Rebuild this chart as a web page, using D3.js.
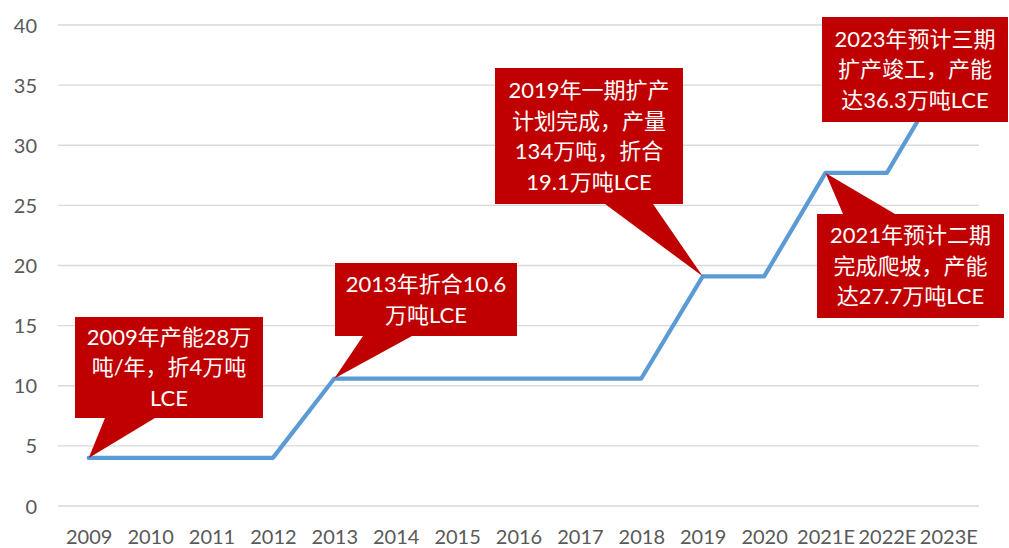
<!DOCTYPE html>
<html>
<head>
<meta charset="utf-8">
<script src="https://cdnjs.cloudflare.com/ajax/libs/d3/7.8.5/d3.min.js"></script>
<style>
  html, body { margin: 0; padding: 0; background: #fff; }
  svg { display: block; }
  text { font-family: Lato, "Noto Sans CJK SC", sans-serif; }
</style>
</head>
<body>
<svg id="chart" width="1009" height="548"></svg>
<script>
// ---- data ----
const categories = ["2009","2010","2011","2012","2013","2014","2015","2016","2017","2018","2019","2020","2021E","2022E","2023E"];
const capacity = [4, 4, 4, 4, 10.6, 10.6, 10.6, 10.6, 10.6, 10.6, 19.1, 19.1, 27.7, 27.7, 36.3];
const yTicks = [0, 5, 10, 15, 20, 25, 30, 35, 40];

const noteCategories = ["2009", "2013", "2019", "2021E", "2023E"];
const noteTexts = [
  ["2009年产能28万", "吨/年，折4万吨", "LCE"],
  ["2013年折合10.6", "万吨LCE"],
  ["2019年一期扩产", "计划完成，产量", "134万吨，折合", "19.1万吨LCE"],
  ["2021年预计二期", "完成爬坡，产能", "达27.7万吨LCE"],
  ["2023年预计三期", "扩产竣工，产能", "达36.3万吨LCE"]
];

// ---- layout (pixels) ----
const W = 1009, H = 548;
const plot = { left: 58, right: 979, top: 25, bottom: 506 };
const boxes = [
  { x0: 75,  y0: 317, x1: 263,  y1: 418, side: "bottom", b0: 105, b1: 155 },
  { x0: 335, y0: 263, x1: 517,  y1: 336, side: "bottom", b0: 363, b1: 412 },
  { x0: 495, y0: 68,  x1: 683,  y1: 204, side: "bottom", b0: 605, b1: 653 },
  { x0: 817, y0: 214, x1: 1004, y1: 318, side: "top",    b0: 843, b1: 895 },
  { x0: 822, y0: 17,  x1: 1008, y1: 122, side: "none" }
];
const lineGap = 30.5;

const svg = d3.select("#chart");

const x = d3.scalePoint().domain(categories).range([plot.left, plot.right]).padding(0.5);
const y = d3.scaleLinear().domain([0, 40]).range([plot.bottom, plot.top]);

// gridlines
svg.append("g").selectAll("line").data(yTicks).join("line")
  .attr("x1", plot.left).attr("x2", plot.right)
  .attr("y1", d => y(d)).attr("y2", d => y(d))
  .attr("stroke", "#D9D9D9").attr("stroke-width", 1.3);

// y axis labels
const yAxis = d3.axisLeft(y).tickValues(yTicks).tickSize(0).tickPadding(0);
const gy = svg.append("g").attr("transform", "translate(37,0)").call(yAxis);
gy.select(".domain").remove();
gy.selectAll("text").attr("fill", "#595959").style("font-size", "20px").style("font-family", "Lato, sans-serif").attr("dy", "0.35em");

// x axis labels
const xAxis = d3.axisBottom(x).tickSize(0).tickPadding(0);
const gx = svg.append("g").attr("transform", "translate(0,537)").call(xAxis);
gx.select(".domain").remove();
gx.selectAll("text").attr("fill", "#595959").style("font-size", "20px").style("font-family", "Lato, sans-serif").attr("dy", "0.35em");

// line
const line = d3.line().x((d, i) => x(categories[i])).y(d => y(d));
svg.append("path").datum(capacity)
  .attr("d", line)
  .attr("fill", "none")
  .attr("stroke", "#5B9BD5")
  .attr("stroke-width", 4.2)
  .attr("stroke-linejoin", "round")
  .attr("stroke-linecap", "round");

// callouts
const notes = svg.append("g");
noteCategories.forEach((cat, k) => {
  const b = boxes[k];
  const i = categories.indexOf(cat);
  const tx = x(cat), ty = y(capacity[i]);
  const g = notes.append("g");
  let d = `M${b.x0},${b.y0}H${b.x1}V${b.y1}H${b.x0}Z`;
  if (b.side === "bottom") {
    d = `M${b.x0},${b.y0}H${b.x1}V${b.y1}H${b.b1}L${tx},${ty}L${b.b0},${b.y1}H${b.x0}Z`;
  } else if (b.side === "top") {
    d = `M${b.x0},${b.y0}H${b.b0}L${tx},${ty}L${b.b1},${b.y0}H${b.x1}V${b.y1}H${b.x0}Z`;
  }
  g.append("path").attr("d", d).attr("fill", "#C00000");
  const lines = noteTexts[k];
  const cx = (b.x0 + b.x1) / 2, cy = (b.y0 + b.y1) / 2;
  g.selectAll("text").data(lines).join("text")
    .attr("x", cx)
    .attr("y", (t, j) => cy + (j - (lines.length - 1) / 2) * lineGap)
    .attr("dy", "0.36em")
    .attr("text-anchor", "middle")
    .attr("fill", "#FFFFFF")
    .style("font-size", "22px")
    .text(t => t);
});
</script>
</body>
</html>
